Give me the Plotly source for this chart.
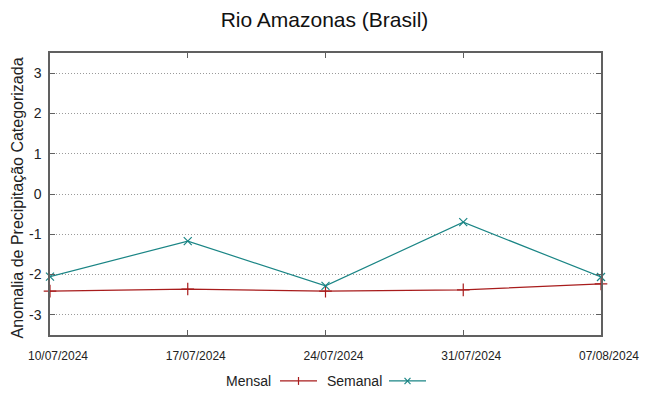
import plotly.graph_objects as go

dates = ["2024-07-10", "2024-07-17", "2024-07-24", "2024-07-31", "2024-08-07"]
date_labels = ["10/07/2024", "17/07/2024", "24/07/2024", "31/07/2024", "07/08/2024"]
mensal = [-2.41, -2.36, -2.41, -2.38, -2.23]
semanal = [-2.05, -1.17, -2.28, -0.70, -2.06]
y_ticks = [-3, -2, -1, 0, 1, 2, 3]
y_tick_labels = ["-3", "-2", "-1", "0", "1", "2", "3"]

RED = "#a81c1c"
TEAL = "#1a8585"
FONT = "Liberation Sans, Arial, sans-serif"

fig = go.Figure()
fig.add_trace(go.Scatter(x=dates, y=mensal, name="Mensal", mode="lines+markers",
                         line=dict(color=RED, width=1.2),
                         marker=dict(symbol="cross-thin", size=9, line=dict(color=RED, width=1.2)),
                         showlegend=False, cliponaxis=False))
fig.add_trace(go.Scatter(x=dates, y=semanal, name="Semanal", mode="lines+markers",
                         line=dict(color=TEAL, width=1.2),
                         marker=dict(symbol="x-thin", size=8, line=dict(color=TEAL, width=1.2)),
                         showlegend=False, cliponaxis=False))

axis_common = dict(showline=True, linecolor="#606060", linewidth=1.5, mirror="ticks",
                   ticks="inside", ticklen=5, tickcolor="#606060", zeroline=False,
                   automargin=False)

fig.update_xaxes(type="date", range=[dates[0], dates[-1]], tickvals=dates, ticktext=date_labels,
                 showgrid=False, ticklabelstandoff=9, ticklabelshift=8,
                 tickfont=dict(family=FONT, size=12, color="#222"), **axis_common)
fig.update_yaxes(range=[-3.5, 3.5], tickvals=y_ticks, ticktext=y_tick_labels,
                 showgrid=True, gridcolor="#9a9a9a",
                 griddash="1px,2px", gridwidth=1, ticklabelstandoff=4,
                 tickfont=dict(family=FONT, size=14, color="#222"),
                 **axis_common)

def px(x):
    return (x - 50) / 551
def py(y):
    return (335 - y) / 282

# y-axis title
fig.add_annotation(xref="paper", yref="paper", x=px(17), y=py(198.5),
                   text="Anomalia de Precipitação Categorizada", textangle=-90,
                   showarrow=False, xanchor="center", yanchor="middle",
                   font=dict(family=FONT, size=16, color="#222"))

# legend drawn gnuplot-style (text, then line sample)
ly = -0.163
fig.add_annotation(xref="paper", yref="paper", x=px(273), y=ly, text="Mensal",
                   showarrow=False, xanchor="right", yanchor="middle",
                   font=dict(family=FONT, size=14, color="#222"))
fig.add_annotation(xref="paper", yref="paper", x=px(325), y=ly, text="Semanal",
                   showarrow=False, xanchor="left", yanchor="middle",
                   font=dict(family=FONT, size=14, color="#222"))
fig.add_shape(type="line", xref="paper", yref="paper", x0=px(280), x1=px(317), y0=ly, y1=ly,
              line=dict(color=RED, width=1.2))
fig.add_shape(type="line", xref="paper", yref="paper", x0=px(298.5), x1=px(298.5), y0=ly - 0.014, y1=ly + 0.014,
              line=dict(color=RED, width=1.2))
fig.add_shape(type="line", xref="paper", yref="paper", x0=px(389), x1=px(426), y0=ly, y1=ly,
              line=dict(color=TEAL, width=1.2))
fig.add_shape(type="line", xref="paper", yref="paper", x0=px(404.5), x1=px(410.5), y0=ly - 0.011, y1=ly + 0.011,
              line=dict(color=TEAL, width=1.2))
fig.add_shape(type="line", xref="paper", yref="paper", x0=px(404.5), x1=px(410.5), y0=ly + 0.011, y1=ly - 0.011,
              line=dict(color=TEAL, width=1.2))

fig.update_layout(
    width=649, height=396,
    margin=dict(l=50, r=48, t=53, b=61),
    paper_bgcolor="white", plot_bgcolor="white",
    title=dict(text="Rio Amazonas (Brasil)", x=0.5, xanchor="center", y=1 - 20 / 396, yanchor="middle",
               font=dict(family=FONT, size=21, color="#111")),
    showlegend=False,
)

fig.write_html("out.html", config={"displayModeBar": False},
               post_script="document.body.style.margin='0';document.body.style.overflow='hidden';")
